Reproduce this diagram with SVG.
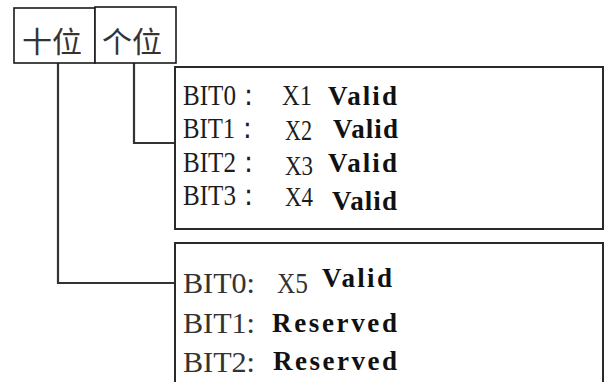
<svg xmlns="http://www.w3.org/2000/svg" width="605" height="382" viewBox="0 0 605 382">
<style>
.box{fill:#fff;stroke:#2a2a2a;stroke-width:2}
.hdr{fill:#fff;stroke:#1a1a1a;stroke-width:1.6}
.conn{fill:none;stroke:#333;stroke-width:2.2}
.cjk{font-family:"Noto Sans CJK SC","Noto Sans CJK JP",sans-serif;font-size:29px;fill:#333}
.bit{font-family:"Liberation Serif",serif;font-size:30px;fill:#1c1c1c}
.bit2{font-family:"Liberation Serif",serif;font-size:30px;fill:#333}
.x{font-size:28px}
.v{font-family:"Liberation Serif",serif;font-weight:bold;font-size:27px;fill:#111}
</style>
<rect width="605" height="382" fill="#fff"/>
<g id="connectors">
<polyline class="conn" points="58,63 58,283 175,283"/>
<polyline class="conn" points="134,63 134,143 175,143"/>
</g>
<g id="tens">
<rect class="hdr" x="14" y="8" width="81" height="55"/>
<text class="cjk" x="22" y="53" textLength="60" lengthAdjust="spacingAndGlyphs">十位</text>
</g>
<g id="ones">
<rect class="hdr" x="95" y="7" width="81" height="56"/>
<text class="cjk" x="102" y="53" textLength="60" lengthAdjust="spacingAndGlyphs">个位</text>
</g>
<g id="ones-bits">
<rect class="box" x="175" y="67" width="428" height="162"/>
<text class="bit" y="105"><tspan x="183" textLength="78" lengthAdjust="spacingAndGlyphs">BIT0：</tspan><tspan x="282" textLength="30" lengthAdjust="spacingAndGlyphs">X1</tspan><tspan x="328" class="v" textLength="69">Valid</tspan></text>
<text class="bit" y="138"><tspan x="183" textLength="77" lengthAdjust="spacingAndGlyphs">BIT1：</tspan><tspan x="285" y="140" textLength="27" lengthAdjust="spacingAndGlyphs">X2</tspan><tspan x="333" y="138" class="v" textLength="65">Valid</tspan></text>
<text class="bit" y="172"><tspan x="183" textLength="78" lengthAdjust="spacingAndGlyphs">BIT2：</tspan><tspan x="285" y="174.5" class="x" textLength="28" lengthAdjust="spacingAndGlyphs">X3</tspan><tspan x="328" y="172" class="v" textLength="69">Valid</tspan></text>
<text class="bit" y="205"><tspan x="183" textLength="78" lengthAdjust="spacingAndGlyphs">BIT3：</tspan><tspan x="285" y="205.5" class="x" textLength="28" lengthAdjust="spacingAndGlyphs">X4</tspan><tspan x="332" y="210" class="v" textLength="65">Valid</tspan></text>
</g>
<g id="tens-bits">
<rect class="box" x="175" y="243" width="428" height="150"/>
<text class="bit2" y="293"><tspan x="183" textLength="72" lengthAdjust="spacingAndGlyphs">BIT0:</tspan><tspan x="277" textLength="31" lengthAdjust="spacingAndGlyphs">X5</tspan><tspan x="322" y="287" class="v" textLength="70">Valid</tspan></text>
<text class="bit2" y="333"><tspan x="183" textLength="72" lengthAdjust="spacingAndGlyphs">BIT1:</tspan><tspan x="272" y="332" class="v" textLength="125">Reserved</tspan></text>
<text class="bit2" y="372"><tspan x="183" textLength="72" lengthAdjust="spacingAndGlyphs">BIT2:</tspan><tspan x="273" y="370" class="v" textLength="124">Reserved</tspan></text>
</g>
</svg>
